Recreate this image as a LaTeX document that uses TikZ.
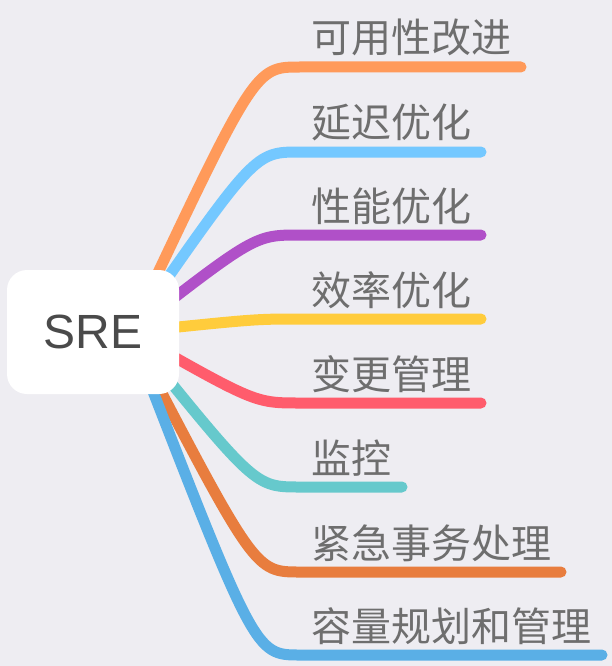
\documentclass[tikz,border=0pt]{standalone}
\usepackage{fontspec}
\setmainfont{Liberation Sans}
\newfontfamily\cjk{Noto Sans CJK SC}
\definecolor{bgc}{HTML}{EEEDF2}
\definecolor{txt}{HTML}{6E6E6E}
\definecolor{roottxt}{HTML}{4A4A4A}
\definecolor{cA}{HTML}{FF9A5A}
\definecolor{cB}{HTML}{74C8FF}
\definecolor{cC}{HTML}{B050C8}
\definecolor{cD}{HTML}{FFCC3C}
\definecolor{cE}{HTML}{FF5C6C}
\definecolor{cF}{HTML}{66C9CC}
\definecolor{cG}{HTML}{E87D3E}
\definecolor{cH}{HTML}{5AAFE6}
\begin{document}
\begin{tikzpicture}[x=1pt,y=-1pt,
  branch/.style={line width=11pt,line cap=round},
  lbl/.style={anchor=base west,inner sep=0pt,text=txt,font=\cjk\fontsize{40}{40}\selectfont},
  rootbox/.style={fill=white,rounded corners=20pt,minimum width=172pt,minimum height=124pt,inner sep=0pt,
    text=roottxt,font=\fontsize{48}{48}\selectfont}]
\fill[bgc] (0,0) rectangle (612,666);
\useasboundingbox (0,0) rectangle (612,666);
\coordinate (s) at (130,332);
% branch ends
\coordinate (a1) at (300,67);  \coordinate (a2) at (521,67);
\coordinate (b1) at (300,152); \coordinate (b2) at (481,152);
\coordinate (c1) at (300,235); \coordinate (c2) at (481,235);
\coordinate (d1) at (300,319); \coordinate (d2) at (481,319);
\coordinate (e1) at (300,403); \coordinate (e2) at (481,403);
\coordinate (f1) at (300,487); \coordinate (f2) at (402,487);
\coordinate (g1) at (300,572); \coordinate (g2) at (561,572);
\coordinate (h1) at (300,655); \coordinate (h2) at (602,655);
\draw[branch,cA] (s) .. controls (255,67) and (255,67) .. (a1) -- (a2);
\draw[branch,cB] (s) .. controls (255,152) and (255,152) .. (b1) -- (b2);
\draw[branch,cC] (s) .. controls (255,235) and (255,235) .. (c1) -- (c2);
\draw[branch,cD] (s) .. controls (255,319) and (255,319) .. (d1) -- (d2);
\draw[branch,cE] (s) .. controls (255,403) and (255,403) .. (e1) -- (e2);
\draw[branch,cF] (s) .. controls (255,487) and (255,487) .. (f1) -- (f2);
\draw[branch,cG] (s) .. controls (255,572) and (255,572) .. (g1) -- (g2);
\draw[branch,cH] (s) .. controls (255,655) and (255,655) .. (h1) -- (h2);
\node[rootbox] (root) at (93,332) {SRE};
\node[lbl] (ta) at (311,53)  {可用性改进};
\node[lbl] (tb) at (311,138) {延迟优化};
\node[lbl] (tc) at (311,221) {性能优化};
\node[lbl] (td) at (311,305) {效率优化};
\node[lbl] (te) at (311,389) {变更管理};
\node[lbl] (tf) at (311,473) {监控};
\node[lbl] (tg) at (311,558) {紧急事务处理};
\node[lbl] (th) at (311,641) {容量规划和管理};
\end{tikzpicture}
\end{document}
